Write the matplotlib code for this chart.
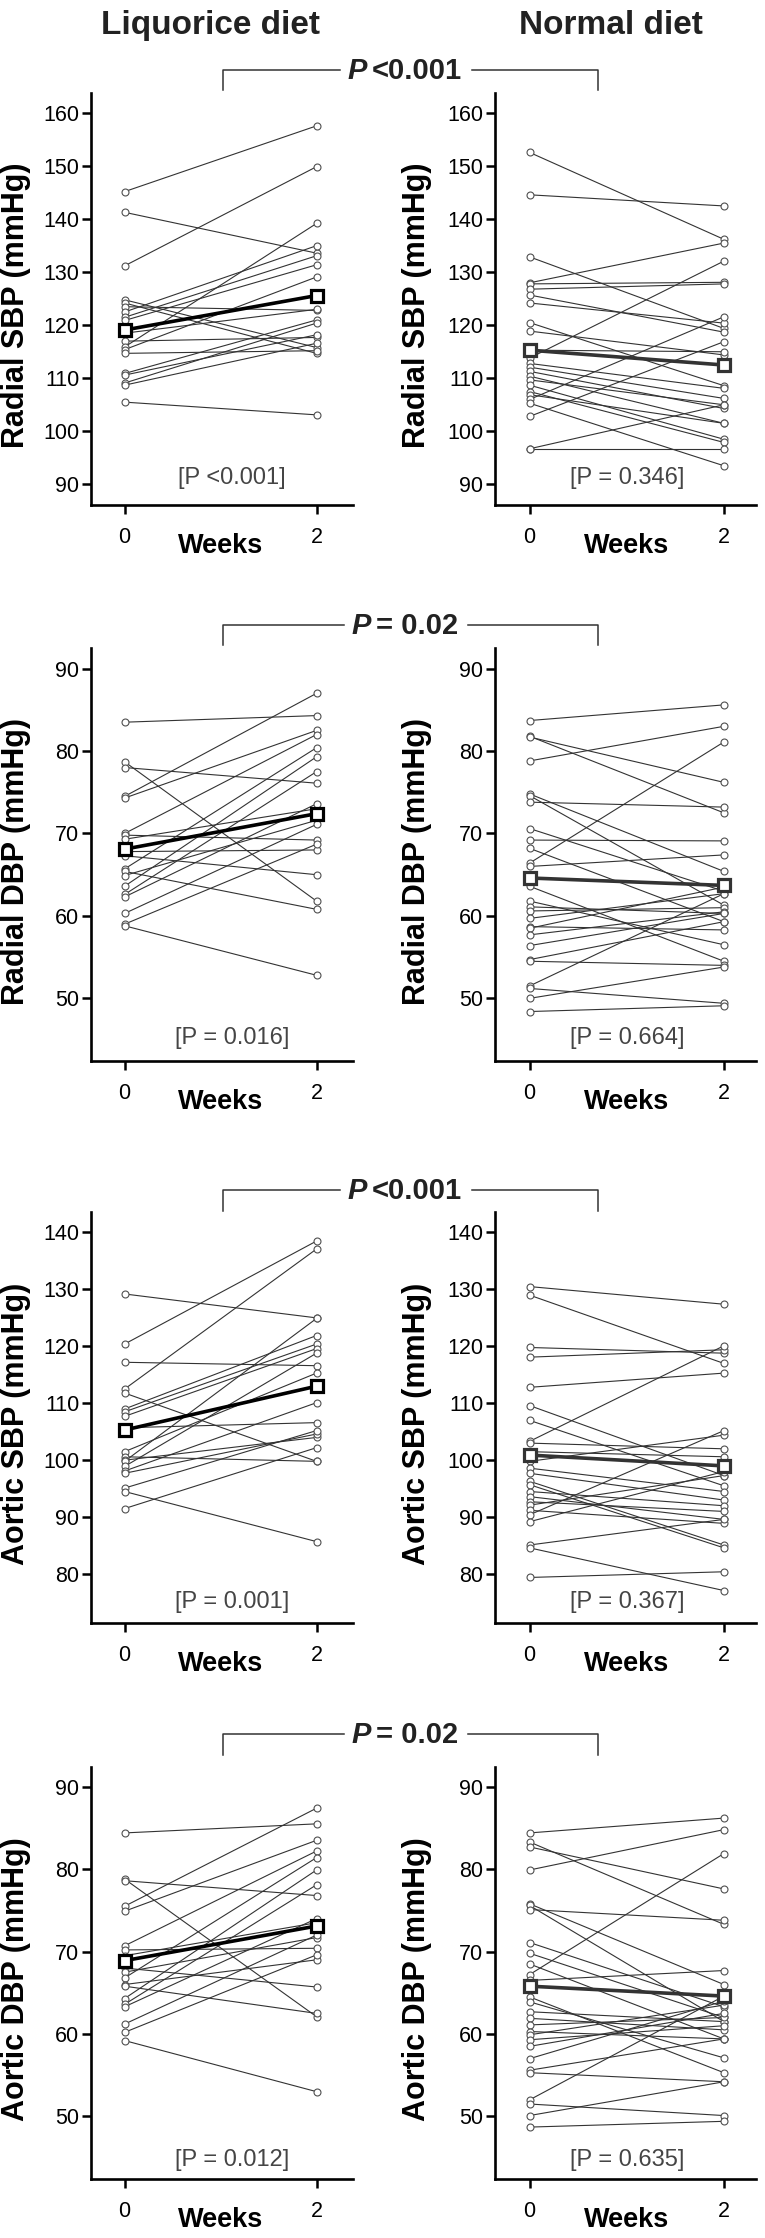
import matplotlib.pyplot as plt
from matplotlib.lines import Line2D

plt.rcParams['font.family'] = ['Liberation Sans', 'DejaVu Sans']

# ---- data (paired: index i of week 0 goes with index i of week 2) ----
weeks = [0, 2]
diets = ['Liquorice diet', 'Normal diet']
measures = ['Radial SBP (mmHg)', 'Radial DBP (mmHg)', 'Aortic SBP (mmHg)', 'Aortic DBP (mmHg)']

# Radial SBP
rsbp_liq_w0 = [145.2, 141.3, 131.2, 124.8, 124.2, 123.5, 122.5, 121.5, 120.9, 118.5,
               117.0, 115.9, 115.4, 114.7, 110.9, 110.6, 109.1, 108.7, 105.5]
rsbp_liq_w2 = [157.6, 133.6, 149.9, 115.8, 114.7, 122.8, 135.0, 133.1, 131.4, 123.0,
               117.7, 139.2, 129.1, 115.2, 121.0, 118.2, 120.4, 116.6, 103.1]
rsbp_nor_w0 = [152.6, 144.6, 132.9, 128.0, 127.8, 126.8, 125.7, 124.2, 120.5, 118.9,
               115.3, 113.8, 112.8, 112.1, 111.3, 110.4, 109.7, 108.7, 107.5, 106.9,
               106.0, 105.3, 102.8, 96.7, 96.7]
rsbp_nor_w2 = [136.2, 142.5, 119.4, 135.5, 128.1, 127.8, 118.7, 120.4, 108.6, 114.4,
               115.0, 132.1, 108.1, 106.2, 104.3, 101.5, 105.0, 98.5, 97.9, 101.5,
               121.6, 93.5, 116.9, 105.0, 96.7]

# Radial DBP
rdbp_liq_w0 = [83.5, 78.7, 78.0, 74.5, 74.3, 70.0, 69.8, 69.3, 67.8, 67.3, 65.7, 65.4,
               64.9, 63.6, 62.6, 62.3, 60.3, 59.0, 58.8]
rdbp_liq_w2 = [84.3, 61.8, 76.1, 87.0, 82.5, 82.0, 69.2, 73.0, 68.0, 65.0, 80.4, 60.8,
               71.6, 79.3, 77.5, 73.6, 71.1, 68.7, 52.8]
rdbp_nor_w0 = [83.7, 81.8, 81.7, 78.8, 74.8, 74.6, 73.8, 70.6, 69.2, 68.2, 66.4, 66.0,
               63.6, 61.8, 61.1, 60.6, 59.7, 58.7, 58.5, 57.7, 56.4, 54.7, 54.5, 51.5,
               51.2, 50.0, 48.4]
rdbp_nor_w2 = [85.6, 72.5, 76.2, 83.0, 65.4, 61.3, 73.2, 63.0, 69.1, 59.3, 81.1, 67.4,
               54.5, 56.5, 60.3, 61.0, 62.7, 58.3, 63.5, 60.5, 60.3, 59.3, 54.0, 62.7,
               49.4, 53.8, 49.1]

# Aortic SBP
asbp_liq_w0 = [129.2, 120.4, 117.2, 112.5, 111.8, 109.0, 108.5, 107.7, 105.7, 101.5,
               100.6, 100.0, 99.8, 98.9, 98.1, 97.7, 95.1, 94.5, 91.5]
asbp_liq_w2 = [125.0, 138.5, 116.6, 137.1, 99.8, 121.9, 120.4, 119.6, 106.6, 115.3,
               99.8, 104.0, 124.9, 118.8, 110.1, 104.6, 105.2, 85.7, 102.2]
asbp_nor_w0 = [130.5, 129.0, 119.8, 118.1, 112.8, 109.6, 107.0, 103.3, 103.0, 101.5,
               99.8, 98.6, 97.7, 96.3, 95.7, 94.5, 93.6, 92.7, 92.1, 91.2, 90.4, 89.2,
               85.1, 84.6, 79.4]
asbp_nor_w2 = [127.4, 117.0, 118.8, 119.4, 115.3, 97.3, 95.5, 120.1, 102.0, 100.6,
               104.4, 94.5, 93.0, 85.1, 84.6, 92.0, 89.6, 91.0, 97.3, 88.9, 105.2, 98.0,
               89.6, 77.1, 80.4]

# Aortic DBP
adbp_liq_w0 = [84.4, 78.8, 78.6, 75.5, 74.9, 70.7, 70.2, 69.5, 68.0, 67.5, 66.8, 66.0,
               65.8, 64.3, 63.6, 63.3, 61.2, 60.2, 59.2]
adbp_liq_w2 = [85.5, 62.1, 76.8, 87.4, 83.5, 82.2, 70.4, 73.5, 65.7, 71.7, 81.4, 69.0,
               62.5, 79.9, 78.1, 74.0, 72.0, 69.6, 53.0]
adbp_nor_w0 = [84.4, 83.3, 82.7, 79.9, 75.8, 75.6, 75.1, 71.1, 69.8, 68.5, 67.2, 66.5,
               64.5, 63.9, 62.7, 61.9, 61.1, 60.3, 59.9, 59.3, 58.5, 57.0, 55.6, 55.3,
               52.0, 51.5, 50.1, 48.7]
adbp_nor_w2 = [86.2, 73.3, 77.6, 84.8, 66.0, 61.5, 73.8, 63.3, 62.0, 59.4, 81.9, 67.7,
               55.3, 57.1, 61.5, 60.5, 62.0, 59.4, 63.5, 61.0, 62.5, 64.0, 59.4, 54.2,
               64.6, 50.1, 54.2, 49.4]

# group means (week 0, week 2)
means_liq = [[119.1, 125.6], [68.1, 72.4], [105.3, 113.0], [68.9, 73.1]]
means_nor = [[115.3, 112.5], [64.6, 63.7], [100.9, 99.0], [65.8, 64.6]]

p_within_liq = ['[P <0.001]', '[P = 0.016]', '[P = 0.001]', '[P = 0.012]']
p_within_nor = ['[P = 0.346]', '[P = 0.664]', '[P = 0.367]', '[P = 0.635]']
p_between = ['<0.001', '= 0.02', '<0.001', '= 0.02']

yticks = [list(range(90, 161, 10)), list(range(50, 91, 10)),
          list(range(80, 141, 10)), list(range(50, 91, 10))]
ylims = [(86.1, 163.8), (42.4, 92.5), (71.4, 143.6), (42.4, 92.4)]

liq = [(rsbp_liq_w0, rsbp_liq_w2), (rdbp_liq_w0, rdbp_liq_w2),
       (asbp_liq_w0, asbp_liq_w2), (adbp_liq_w0, adbp_liq_w2)]
nor = [(rsbp_nor_w0, rsbp_nor_w2), (rdbp_nor_w0, rdbp_nor_w2),
       (asbp_nor_w0, asbp_nor_w2), (adbp_nor_w0, adbp_nor_w2)]

# ---- layout (pixels of a 765 x 2238 canvas) ----
W, H = 765, 2238
fig = plt.figure(figsize=(W / 100, H / 100), dpi=100)

def fx(px):
    return px / W

def fy(py):
    return 1 - py / H

row_box = [(93, 505), (648, 1061), (1212, 1623), (1767, 2179)]
col_box = [(91, 353), (495, 756)]
col_xlim = [(-0.35, 2.38), (-0.355, 2.33)]
col_ptext_x = [1.12, 1.01]
col_ylab_x = [-0.228, -0.242]
bracket_y = [(70, 90), (625, 645), (1190, 1211), (1734, 1755)]
ptext_off = [27, 23, 21, 19]

for r in range(4):
    top, bot = row_box[r]
    for c in range(2):
        left, right = col_box[c]
        ax = fig.add_axes([fx(left), fy(bot), fx(right) - fx(left), (bot - top) / H])
        w0, w2 = (liq if c == 0 else nor)[r]
        means = (means_liq if c == 0 else means_nor)[r]
        mean_col = 'black' if c == 0 else '#333333'

        for a, b in zip(w0, w2):
            ax.plot(weeks, [a, b], color='#333333', lw=0.8, zorder=2)
        ax.plot([0] * len(w0), w0, 'o', ms=5, mfc='white', mec='#505050', mew=0.8, zorder=3)
        ax.plot([2] * len(w2), w2, 'o', ms=5, mfc='white', mec='#505050', mew=0.8, zorder=3)
        ax.plot(weeks, means, '-s', color=mean_col, lw=2.6, ms=8, mfc='white',
                mec=mean_col, mew=2.3, zorder=5)

        ax.set_xlim(col_xlim[c])
        ax.set_ylim(ylims[r])
        ax.set_xticks(weeks)
        ax.set_yticks(yticks[r])
        ax.tick_params(axis='both', labelsize=15.5, width=1.8, length=6.5, direction='out')
        ax.tick_params(axis='y', pad=2)
        ax.tick_params(axis='x', pad=9)
        for s in ['top', 'right']:
            ax.spines[s].set_visible(False)
        for s in ['left', 'bottom']:
            ax.spines[s].set_linewidth(1.9)

        ax.set_ylabel(measures[r], fontsize=22, fontweight='bold')
        ax.yaxis.set_label_coords(col_ylab_x[c], 0.484)

        ax.annotate('Weeks', xy=(1, 0), xycoords=('data', 'axes fraction'),
                    xytext=(0, -41 * 0.72), textcoords='offset points',
                    ha='center', va='center', fontsize=19.5, fontweight='bold')
        ptxt = (p_within_liq if c == 0 else p_within_nor)[r]
        ax.annotate(ptxt, xy=(col_ptext_x[c], 0), xycoords=('data', 'axes fraction'),
                    xytext=(0, ptext_off[r] * 0.72), textcoords='offset points',
                    ha='center', va='center', fontsize=17, color='#454545')

fig.text(fx(210), fy(34), diets[0], fontsize=24, fontweight='bold',
         ha='center', va='baseline', color='#222222')
fig.text(fx(611), fy(34), diets[1], fontsize=24, fontweight='bold',
         ha='center', va='baseline', color='#222222')

# brackets comparing the two diets: bold italic P, then the value, line gaps around text
renderer = fig.canvas.get_renderer()
for r in range(4):
    yt, yb = bracket_y[r]
    tp = fig.text(0, fy(yt + 9), 'P', fontsize=21, fontweight='bold', fontstyle='italic',
                  ha='left', va='baseline', color='#222222')
    tv = fig.text(0, fy(yt + 9), p_between[r], fontsize=21, fontweight='bold',
                  ha='left', va='baseline', color='#222222')
    wp = tp.get_window_extent(renderer).width
    wv = tv.get_window_extent(renderer).width
    gap = 5
    x0 = 405 - (wp + gap + wv) / 2
    tp.set_x(fx(x0))
    tv.set_x(fx(x0 + wp + gap))
    x1 = x0 + wp + gap + wv
    fig.add_artist(Line2D([fx(223), fx(223), fx(x0 - 8)], [fy(yb), fy(yt), fy(yt)],
                          color='#333333', lw=1.1))
    fig.add_artist(Line2D([fx(x1 + 10), fx(598), fx(598)], [fy(yt), fy(yt), fy(yb)],
                          color='#333333', lw=1.1))

fig.savefig('out.png', dpi=100)
